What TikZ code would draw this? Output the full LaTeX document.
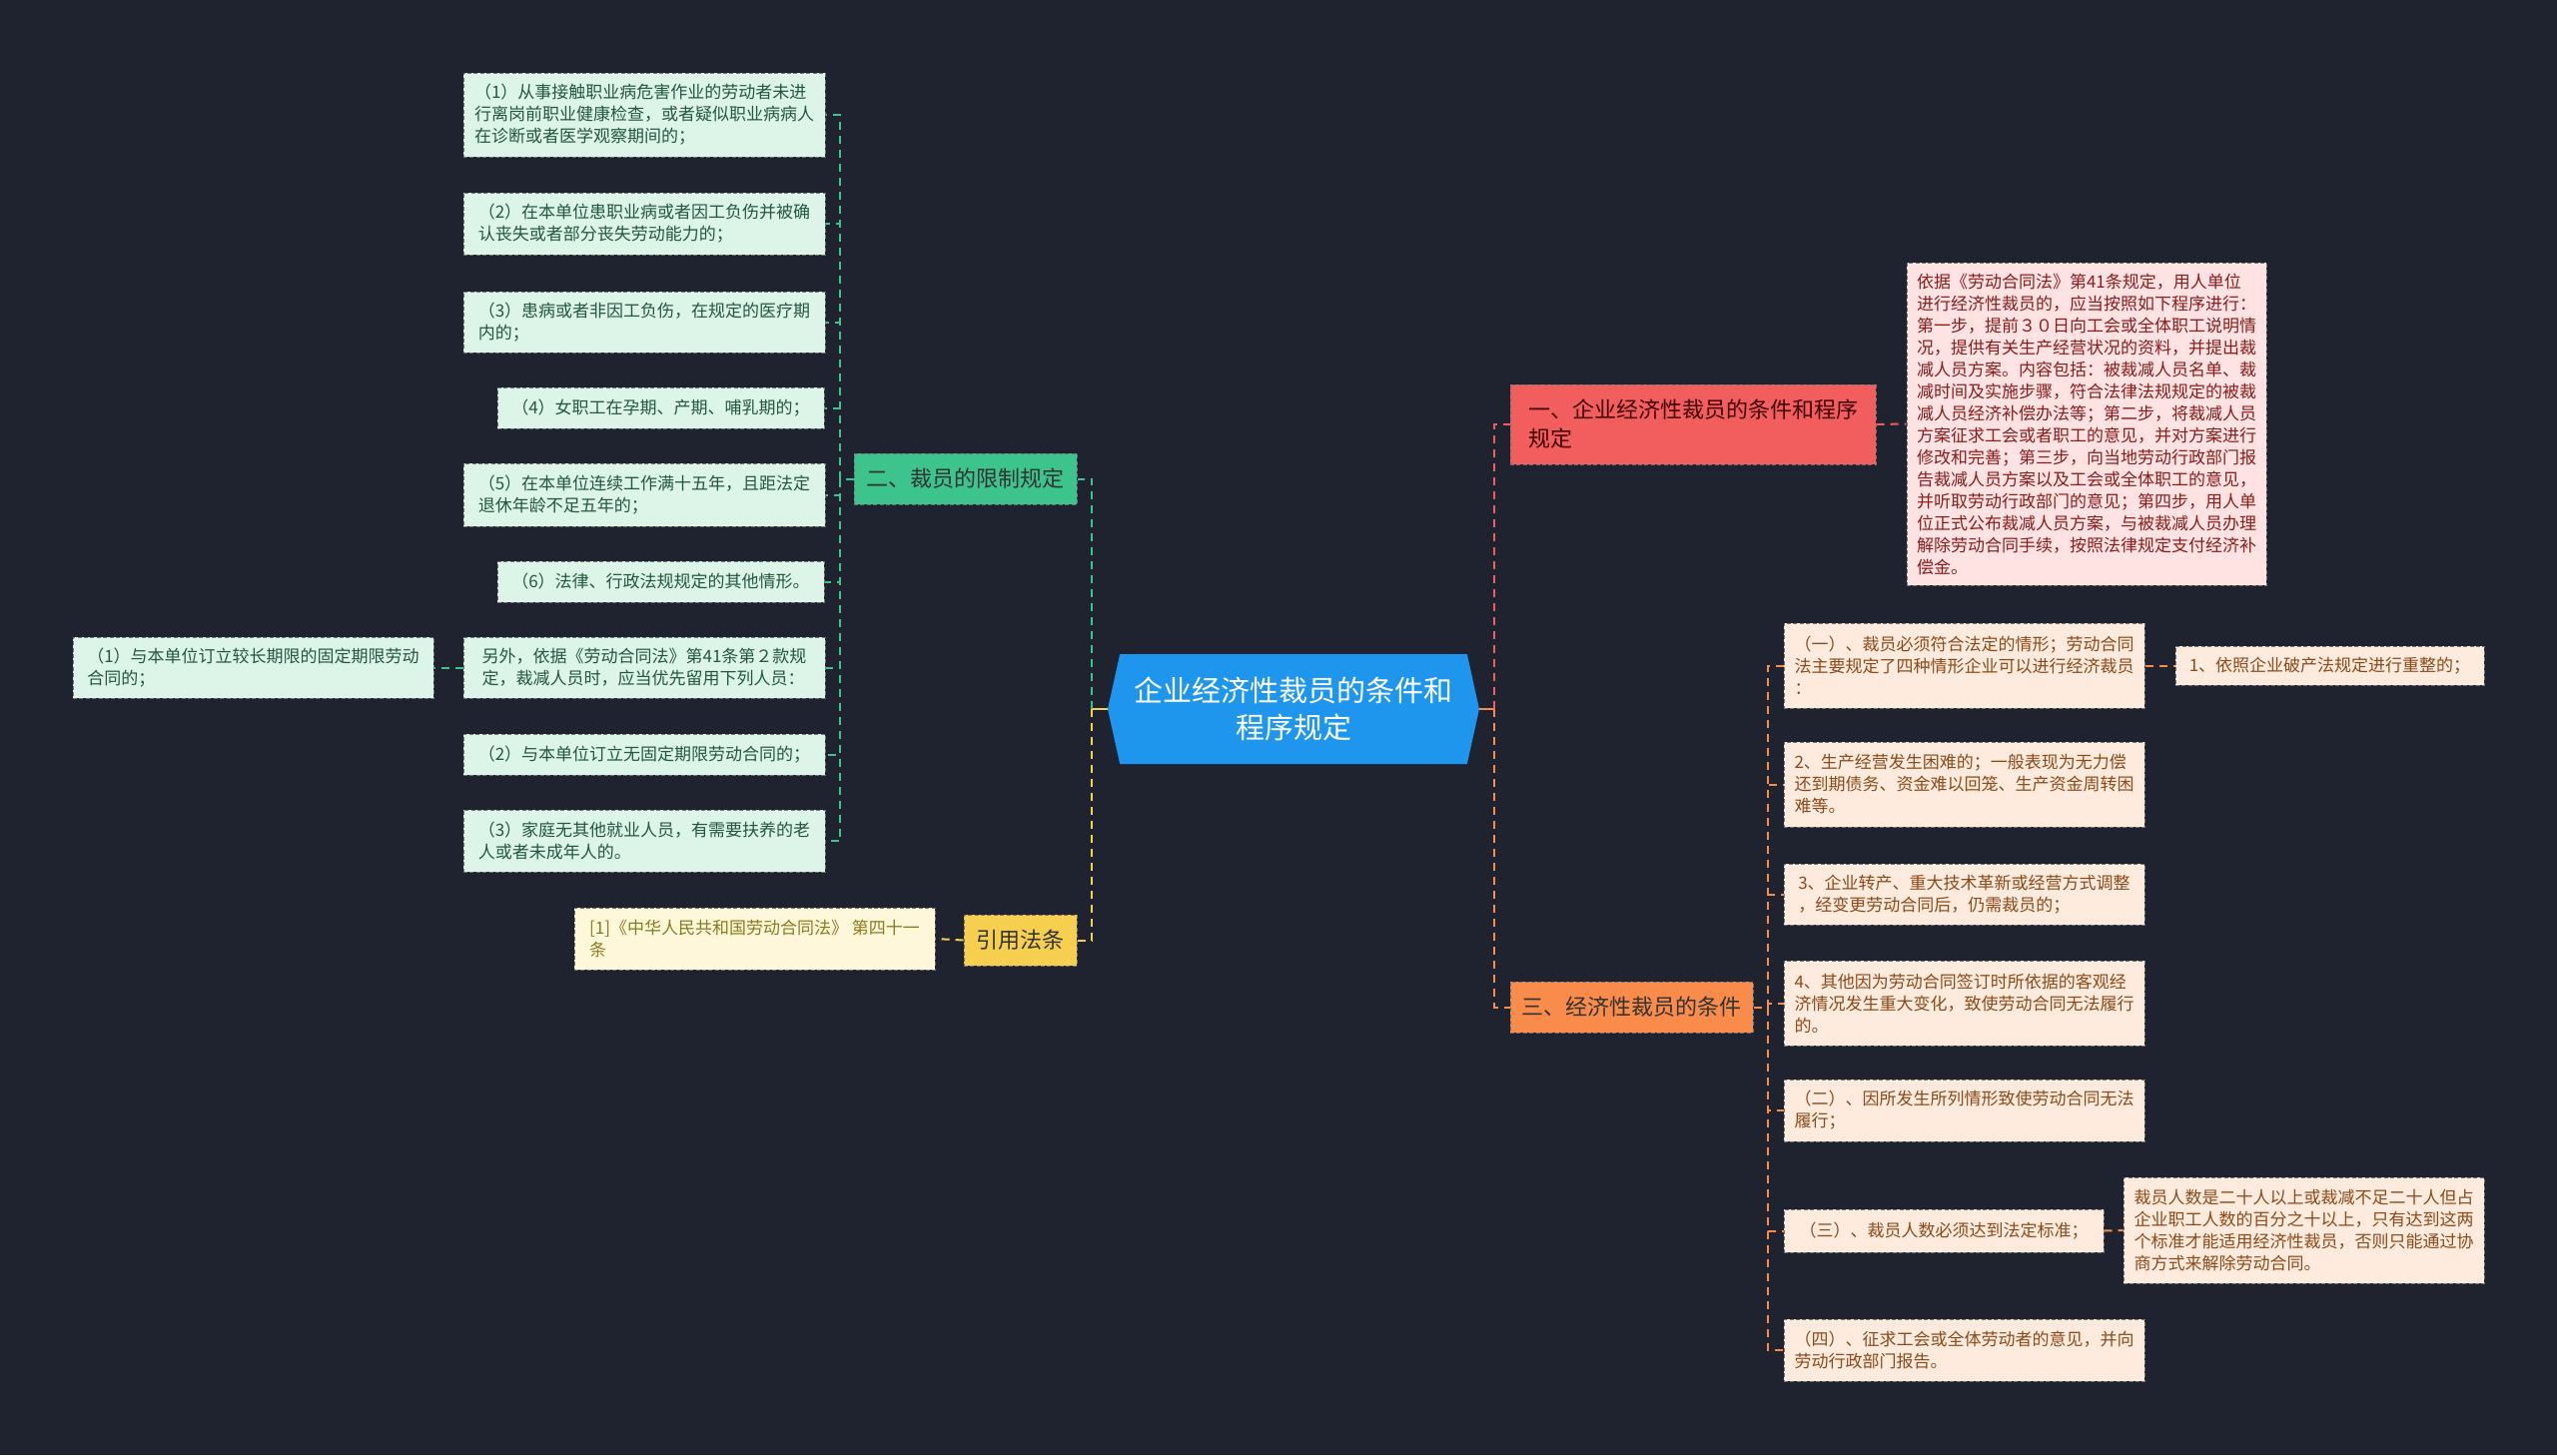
\documentclass[tikz,border=0pt]{standalone}
\usepackage{fontspec}
\setmainfont{Noto Sans CJK SC}
\usetikzlibrary{shapes.symbols}

\definecolor{bgc}{HTML}{1F2330}
\definecolor{rootc}{HTML}{1E96EE}
\definecolor{gc}{HTML}{3CC48C}
\definecolor{gfill}{HTML}{DDF4E8}
\definecolor{gtext}{HTML}{24573F}
\definecolor{yc}{HTML}{F7CF4F}
\definecolor{yfill}{HTML}{FFF7DA}
\definecolor{ytext}{HTML}{8C7A1E}
\definecolor{rc}{HTML}{F25D5D}
\definecolor{pfill}{HTML}{FFE3E3}
\definecolor{ptext}{HTML}{8B1C1C}
\definecolor{oc}{HTML}{F98B4B}
\definecolor{ofill}{HTML}{FFEBDD}
\definecolor{otext}{HTML}{8B4A1A}

\begin{document}
\begin{tikzpicture}[
  x=0.5pt,y=-0.5pt,
  sz/.style 2 args={minimum width=#1*0.5pt,minimum height=#2*0.5pt},
  box/.style={draw=black!55,dash pattern=on 2pt off 1.2pt,line width=0.5pt,inner sep=2pt},
  leaf/.style={box,align=left,font=\fontsize{8.5}{11}\selectfont},
  gleaf/.style={leaf,fill=gfill,text=gtext},
  oleaf/.style={leaf,fill=ofill,text=otext},
  br/.style={box,align=left,font=\fontsize{11}{14.5}\selectfont},
  lnk/.style={dash pattern=on 4pt off 3pt,line width=1pt},
]
\fill[bgc] (0,0) rectangle (2560,1457);

\node[signal,signal to=west and east,signal pointer angle=155,fill=rootc,sz={372}{110},
      text=white,align=center,inner sep=0pt,font=\fontsize{14.5}{18.5}\selectfont] (root) at (1295,710)
  {企业经济性裁员的条件和\\程序规定};

% left side
\node[br,fill=gc,text=black!80,sz={223}{51}] (lim) at (966.5,479.5) {二、裁员的限制规定};
\node[br,fill=yc,text=black!80,sz={113}{51}] (law) at (1021.5,941.5) {引用法条};
\node[leaf,fill=yfill,text=ytext,sz={361}{62}] (ref) at (755.5,940) {[1]《中华人民共和国劳动合同法》 第四十一\\条};

\node[gleaf,sz={362}{84}] (l1) at (645,115)
  {（1）从事接触职业病危害作业的劳动者未进\\行离岗前职业健康检查，或者疑似职业病病人\\在诊断或者医学观察期间的；};
\node[gleaf,sz={362}{62}] (l2) at (645,224)
  {（2）在本单位患职业病或者因工负伤并被确\\认丧失或者部分丧失劳动能力的；};
\node[gleaf,sz={362}{61}] (l3) at (645,322.5)
  {（3）患病或者非因工负伤，在规定的医疗期\\内的；};
\node[gleaf,sz={327}{41}] (l4) at (661.5,408.5) {（4）女职工在孕期、产期、哺乳期的；};
\node[gleaf,sz={362}{63}] (l5) at (645,495.5)
  {（5）在本单位连续工作满十五年，且距法定\\退休年龄不足五年的；};
\node[gleaf,sz={327}{41}] (l6) at (661.5,582.5) {（6）法律、行政法规规定的其他情形。};
\node[gleaf,sz={362}{61}] (l7) at (645,668.5)
  {另外，依据《劳动合同法》第41条第２款规\\定，裁减人员时，应当优先留用下列人员：};
\node[gleaf,sz={361}{61}] (l8) at (253.5,668.5)
  {（1）与本单位订立较长期限的固定期限劳动\\合同的；};
\node[gleaf,sz={362}{41}] (l9) at (645,755.5) {（2）与本单位订立无固定期限劳动合同的；};
\node[gleaf,sz={362}{62}] (l10) at (645,842)
  {（3）家庭无其他就业人员，有需要扶养的老\\人或者未成年人的。};

% right side
\node[br,fill=rc,text=black!75!red,sz={366}{80}] (proc) at (1695,425) {一、企业经济性裁员的条件和程序\\规定};
\node[leaf,fill=pfill,text=ptext,sz={360}{323}] (procx) at (2089,424.5)
  {依据《劳动合同法》第41条规定，用人单位\\进行经济性裁员的，应当按照如下程序进行：\\第一步，提前３０日向工会或全体职工说明情\\况，提供有关生产经营状况的资料，并提出裁\\减人员方案。内容包括：被裁减人员名单、裁\\减时间及实施步骤，符合法律法规规定的被裁\\减人员经济补偿办法等；第二步，将裁减人员\\方案征求工会或者职工的意见，并对方案进行\\修改和完善；第三步，向当地劳动行政部门报\\告裁减人员方案以及工会或全体职工的意见，\\并听取劳动行政部门的意见；第四步，用人单\\位正式公布裁减人员方案，与被裁减人员办理\\解除劳动合同手续，按照法律规定支付经济补\\偿金。};
\node[br,fill=oc,text=black!80,sz={243}{51}] (cond) at (1633.5,1008.5) {三、经济性裁员的条件};

\node[oleaf,sz={361}{85}] (c1) at (1966.5,666.5)
  {（一）、裁员必须符合法定的情形；劳动合同\\法主要规定了四种情形企业可以进行经济裁员\\：};
\node[oleaf,sz={309}{39}] (c1a) at (2332.5,666.5) {1、依照企业破产法规定进行重整的；};
\node[oleaf,sz={361}{85}] (c2) at (1966.5,785.5)
  {2、生产经营发生困难的；一般表现为无力偿\\还到期债务、资金难以回笼、生产资金周转困\\难等。};
\node[oleaf,sz={361}{61}] (c3) at (1966.5,895.5)
  {3、企业转产、重大技术革新或经营方式调整\\，经变更劳动合同后，仍需裁员的；};
\node[oleaf,sz={361}{85}] (c4) at (1966.5,1004.5)
  {4、其他因为劳动合同签订时所依据的客观经\\济情况发生重大变化，致使劳动合同无法履行\\的。};
\node[oleaf,sz={361}{62}] (c5) at (1966.5,1112)
  {（二）、因所发生所列情形致使劳动合同无法\\履行；};
\node[oleaf,sz={320}{43}] (c6) at (1946,1232.5) {（三）、裁员人数必须达到法定标准；};
\node[oleaf,sz={361}{106}] (c6a) at (2306.5,1232)
  {裁员人数是二十人以上或裁减不足二十人但占\\企业职工人数的百分之十以上，只有达到这两\\个标准才能适用经济性裁员，否则只能通过协\\商方式来解除劳动合同。};
\node[oleaf,sz={361}{62}] (c7) at (1966.5,1352)
  {（四）、征求工会或全体劳动者的意见，并向\\劳动行政部门报告。};

% links
\coordinate (lj) at (1093,710);
\coordinate (rj) at (1496,710);
\coordinate (gj) at (841,479.5);
\coordinate (oj) at (1770,1008.5);
\draw[yc,line width=1pt] (root.west) -- (lj);
\draw[oc,line width=1pt] (root.east) -- (rj);
\draw[lnk,gc] (lj) |- (lim.east);
\draw[lnk,yc] (lj) |- (law.east);
\draw[lnk,yc] (law.west) -- (ref.east);
\draw[lnk,gc] (lim.west) -- (gj);
\foreach \n in {l1,l2,l3,l4,l5,l6,l7,l9,l10}
  \draw[lnk,gc] (gj) |- (\n.east);
\draw[lnk,gc] (l7.west) -- (l8.east);
\draw[lnk,rc] (rj) |- (proc.west);
\draw[lnk,oc] (rj) |- (cond.west);
\draw[lnk,rc] (proc.east) -- (procx.west);
\draw[lnk,oc] (cond.east) -- (oj);
\foreach \n in {c1,c2,c3,c4,c5,c6,c7}
  \draw[lnk,oc] (oj) |- (\n.west);
\draw[lnk,oc] (c1.east) -- (c1a.west);
\draw[lnk,oc] (c6.east) -- (c6a.west);
\end{tikzpicture}
\end{document}
